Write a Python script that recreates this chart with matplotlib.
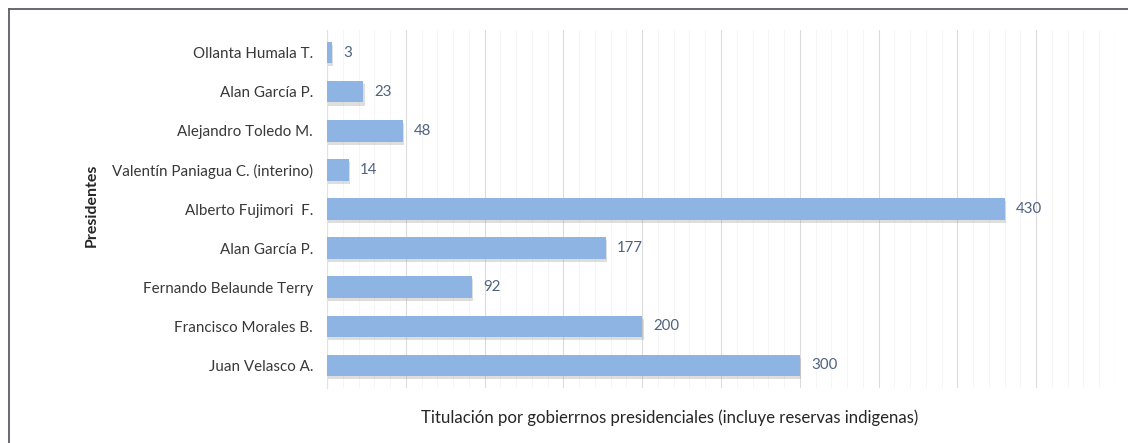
import matplotlib
matplotlib.use("Agg")
import matplotlib.pyplot as plt
import matplotlib.patheffects as pe
from matplotlib.lines import Line2D
from matplotlib.ticker import MultipleLocator

# Data (top to bottom as shown)
presidents = [
    "Ollanta Humala T.",
    "Alan García P.",
    "Alejandro Toledo M.",
    "Valentín Paniagua C. (interino)",
    "Alberto Fujimori  F.",
    "Alan García P.",
    "Fernando Belaunde Terry",
    "Francisco Morales B.",
    "Juan Velasco A.",
]
titulaciones = [3, 23, 48, 14, 430, 177, 92, 200, 300]

xlabel_text = "Titulación por gobierrnos presidenciales (incluye reservas indigenas)"
ylabel_text = "Presidentes"

plt.rcParams['font.family'] = ['Lato', 'DejaVu Sans']

fig = plt.figure(figsize=(11.28, 4.43), dpi=100)
ax = fig.add_axes([327/1128, 1-388/443, (1115-327)/1128, (388-30)/443])

n = len(presidents)
ypos = list(range(n))
bar_color = "#8db4e2"
bars = ax.barh(ypos, titulaciones, height=0.55, color=bar_color, zorder=3)
for b in bars:
    b.set_path_effects([
        pe.SimplePatchShadow(offset=(1.0, -2.2), shadow_rgbFace="#8a8a8a", alpha=0.28),
        pe.Normal()])

for y, v in zip(ypos, titulaciones):
    ax.annotate(str(v), xy=(v, y), xytext=(8, 0), textcoords="offset points",
                va="center", ha="left", fontsize=10.8, color="#4e6382", zorder=4)

ax.set_xlim(0, 500)
ax.set_ylim(n - 1 + 0.58, -0.58)
ax.set_yticks(ypos)
ax.set_yticklabels(presidents, fontsize=10.9, color="#383838")
ax.tick_params(axis="y", length=0, pad=10)
ax.tick_params(axis="x", which="both", length=0, labelbottom=False)

ax.xaxis.set_major_locator(MultipleLocator(50))
ax.xaxis.set_minor_locator(MultipleLocator(10))
ax.grid(axis="x", which="major", color="#dcdcdc", lw=0.8, zorder=0)
ax.grid(axis="x", which="minor", color="#f4f4f4", lw=0.6, zorder=0)
ax.set_axisbelow(True)
for s in ["top", "right", "bottom"]:
    ax.spines[s].set_visible(False)
ax.spines["left"].set_color("#dde3ec")
ax.spines["left"].set_linewidth(0.8)

fig.text(670/1128, 1-418/443, xlabel_text, ha="center", va="center", fontsize=12.1, color="#262626")
fig.text(92/1128, 1-205/443, ylabel_text, ha="center", va="center", rotation=90,
         fontsize=11.5, fontweight="bold", color="#262626")

# figure frame
fig.add_artist(Line2D([9/1128, 1.01], [1-9/443, 1-9/443], transform=fig.transFigure, color="#5a5f66", lw=1.3))
fig.add_artist(Line2D([9/1128, 9/1128], [1-9/443, -0.01], transform=fig.transFigure, color="#5a5f66", lw=1.3))

fig.savefig("out.png", dpi=100)
